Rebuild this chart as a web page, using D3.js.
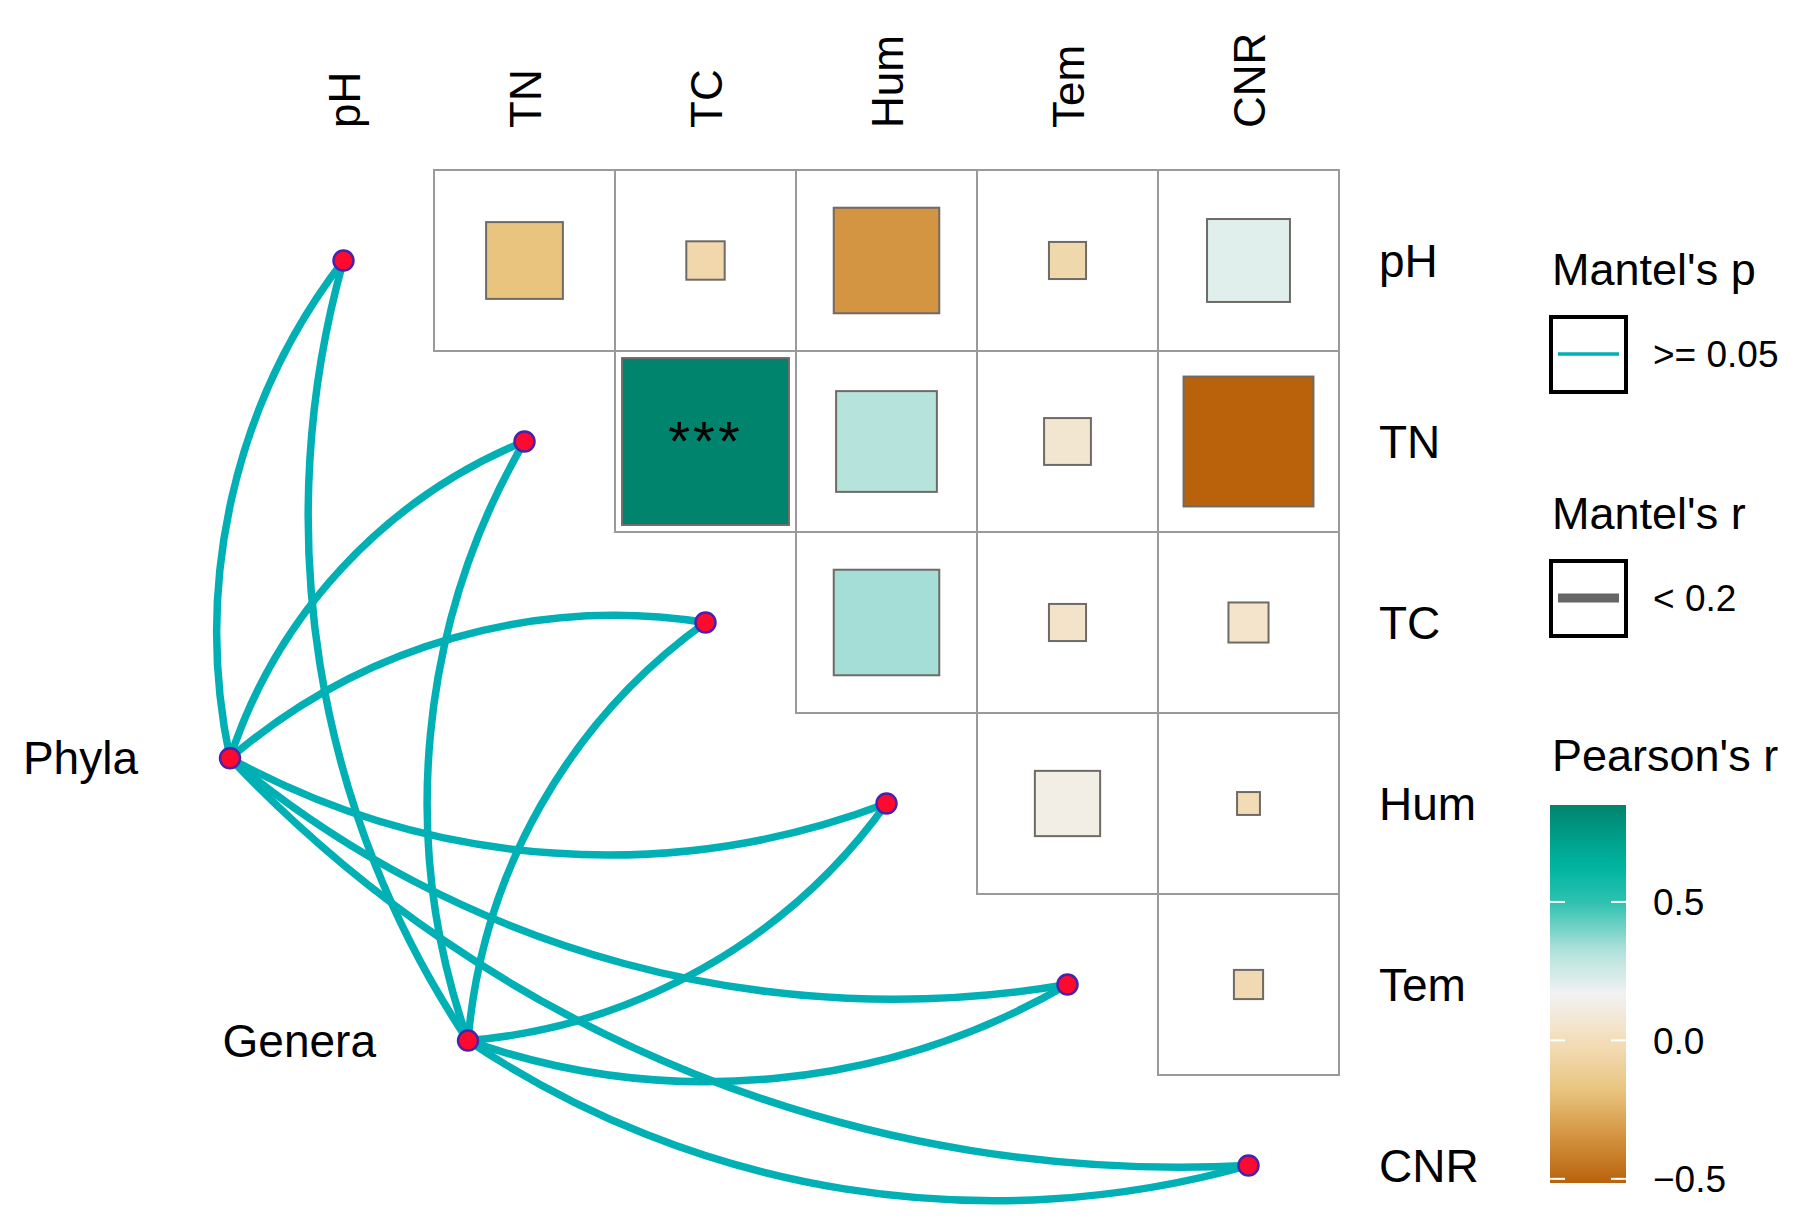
<!DOCTYPE html>
<html><head><meta charset="utf-8">
<script src="https://cdn.jsdelivr.net/npm/d3@7"></script>
<style>
body{margin:0;background:#fff}
svg{display:block}
text{font-family:"Liberation Sans", Arial, Helvetica, sans-serif;fill:#000}
</style>
</head><body>
<svg id="chart" width="1800" height="1226"></svg>
<script>
// ---------------- data ----------------
const envVars = ["pH", "TN", "TC", "Hum", "Tem", "CNR"];

// Pearson's r between environmental variables (upper triangle)
const corrRow = ["pH","pH","pH","pH","pH","TN","TN","TN","TN","TC","TC","TC","Hum","Hum","Tem"];
const corrCol = ["TN","TC","Hum","Tem","CNR","TC","Hum","Tem","CNR","Hum","Tem","CNR","Tem","CNR","CNR"];
const corrR   = [-0.18,-0.045,-0.34,-0.042,0.21, 0.85,0.31,0.067,-0.515, 0.34,0.042,0.049, 0.13,-0.016, -0.026];
const corrSig = ["","","","","", "***","","","", "","","", "","", ""];

// Mantel links
const specNames   = ["Phyla", "Genera"];
const mantelSpec  = ["Phyla","Phyla","Phyla","Phyla","Phyla","Phyla","Genera","Genera","Genera","Genera","Genera","Genera"];
const mantelEnv   = ["pH","TN","TC","Hum","Tem","CNR","pH","TN","TC","Hum","Tem","CNR"];
const mantelPClass = [">= 0.05",">= 0.05",">= 0.05",">= 0.05",">= 0.05",">= 0.05",">= 0.05",">= 0.05",">= 0.05",">= 0.05",">= 0.05",">= 0.05"];
const mantelRClass = ["< 0.2","< 0.2","< 0.2","< 0.2","< 0.2","< 0.2","< 0.2","< 0.2","< 0.2","< 0.2","< 0.2","< 0.2"];

const colorTicks = [-0.5, 0.0, 0.5];
const legendPLabels = [">= 0.05"];
const legendRLabels = ["< 0.2"];

// ---------------- layout / style ----------------
const FONT_LAB = 46, FONT_ROT = 44, FONT_LEG_T = 45, FONT_LEG = 37;
const svg = d3.select("#chart");

const x = d3.scaleBand().domain(envVars).range([253, 1339]).padding(0);
const y = d3.scaleBand().domain(envVars).range([170, 1256]).padding(0);
const bw = x.bandwidth();
// grid-unit scales (index -> pixel centre)
const gx = d3.scaleLinear().domain([0, 1]).range([x("pH") + bw / 2, x("TN") + bw / 2]);
const gy = d3.scaleLinear().domain([0, 1]).range([y("pH") + bw / 2, y("TN") + bw / 2]);
// placement of the species nodes in grid units
const specPos = {Phyla: [-0.627, 2.75], Genera: [0.688, 4.31]};

const ext = d3.extent(corrR);
const palFrac = [0, 0.121, 0.245, 0.377, 0.5, 0.612, 0.744, 0.831, 1];
const palCol  = ["#B9620B","#D3923F","#E8C47F","#F3DEBB","#F2F2F2","#B3E2DC","#2DC1AF","#00B6A2","#00846E"];
const color = d3.scaleLinear()
  .domain(palFrac.map(f => ext[0] + f * (ext[1] - ext[0])))
  .range(palCol).interpolate(d3.interpolateRgb).clamp(true);

const cells = corrR.map((r, i) => ({row: corrRow[i], col: corrCol[i], r, sig: corrSig[i]}));

// ---------------- grid cells ----------------
const gCells = svg.append("g");
gCells.selectAll("rect.cell").data(cells).join("rect")
  .attr("class", "cell")
  .attr("x", d => x(d.col)).attr("y", d => y(d.row))
  .attr("width", bw).attr("height", bw)
  .attr("fill", "#fff").attr("stroke", "#9a9a9a").attr("stroke-width", 2);

gCells.selectAll("rect.sq").data(cells).join("rect")
  .attr("class", "sq")
  .each(function(d) {
    const s = bw * Math.sqrt(Math.abs(d.r));
    d3.select(this)
      .attr("x", x(d.col) + (bw - s) / 2).attr("y", y(d.row) + (bw - s) / 2)
      .attr("width", s).attr("height", s);
  })
  .attr("fill", d => color(d.r)).attr("stroke", "#6f6a66").attr("stroke-width", 2);

gCells.selectAll("text.sig").data(cells.filter(d => d.sig)).join("text")
  .attr("class", "sig")
  .attr("x", d => x(d.col) + bw / 2).attr("y", d => y(d.row) + bw / 2 + 18)
  .attr("text-anchor", "middle").attr("font-size", 56)
  .attr("letter-spacing", 3)
  .text(d => d.sig);

// ---------------- axis labels ----------------
svg.append("g").selectAll("text").data(envVars).join("text")
  .attr("transform", d => `translate(${x(d) + bw / 2 + 16},128) rotate(-90)`)
  .attr("font-size", FONT_ROT).attr("text-anchor", "start")
  .text(d => d);

svg.append("g").selectAll("text").data(envVars).join("text")
  .attr("x", 1379).attr("y", d => y(d) + bw / 2 + 16)
  .attr("font-size", FONT_LAB)
  .text(d => d);

// ---------------- Mantel links ----------------
const links = mantelSpec.map((s, i) => ({spec: s, env: mantelEnv[i], p: mantelPClass[i], r: mantelRClass[i]}));
const envIdx = new Map(envVars.map((v, i) => [v, i]));
const half = (envVars.length - 1) / 2;
const SAG = 0.22;
function linkPath(d) {
  const sp = specPos[d.spec];
  const x1 = gx(sp[0]), y1 = gy(sp[1]);
  const k = envIdx.get(d.env);
  const x2 = gx(k), y2 = gy(k);
  const h = Math.hypot(x2 - x1, y2 - y1) / 2;
  const s = SAG * h;
  const R = (h * h + s * s) / (2 * s);
  const sweep = k < half ? 1 : 0;
  return `M${x1},${y1} A${R},${R} 0 0 ${sweep} ${x2},${y2}`;
}
const pColor = d3.scaleOrdinal().domain([">= 0.05"]).range(["#00B0B5"]);
const rWidth = d3.scaleOrdinal().domain(["< 0.2"]).range([7.5]);

svg.append("g").selectAll("path").data(links).join("path")
  .attr("d", linkPath)
  .attr("fill", "none")
  .attr("stroke", d => pColor(d.p))
  .attr("stroke-width", d => rWidth(d.r))
  .attr("stroke-linecap", "round");

// nodes
const nodeG = svg.append("g");
nodeG.selectAll("circle.env").data(envVars).join("circle")
  .attr("class", "env")
  .attr("cx", (d, i) => gx(i)).attr("cy", (d, i) => gy(i)).attr("r", 10)
  .attr("fill", "#FF0A2E").attr("stroke", "#4B22A8").attr("stroke-width", 2.5);
nodeG.selectAll("circle.spec").data(specNames).join("circle")
  .attr("class", "spec")
  .attr("cx", d => gx(specPos[d][0])).attr("cy", d => gy(specPos[d][1])).attr("r", 10)
  .attr("fill", "#FF0A2E").attr("stroke", "#4B22A8").attr("stroke-width", 2.5);
nodeG.selectAll("text").data(specNames).join("text")
  .attr("x", d => gx(specPos[d][0]) - 92).attr("y", d => gy(specPos[d][1]) + 16)
  .attr("text-anchor", "end").attr("font-size", FONT_LAB)
  .text(d => d);

// ---------------- legends ----------------
const leg = svg.append("g");
// Mantel's p
leg.append("text").attr("x", 1552).attr("y", 285).attr("font-size", FONT_LEG_T).text("Mantel's p");
legendPLabels.forEach((lab, i) => {
  const cy = 354;
  leg.append("rect").attr("x", 1551).attr("y", cy - 37).attr("width", 75).attr("height", 75)
    .attr("fill", "#fff").attr("stroke", "#000").attr("stroke-width", 4);
  leg.append("line").attr("x1", 1558).attr("x2", 1619).attr("y1", cy).attr("y2", cy)
    .attr("stroke", pColor(lab)).attr("stroke-width", 3.5);
  leg.append("text").attr("x", 1653).attr("y", cy).attr("dy", "0.36em")
    .attr("font-size", FONT_LEG).text(lab);
});
// Mantel's r
leg.append("text").attr("x", 1552).attr("y", 529).attr("font-size", FONT_LEG_T).text("Mantel's r");
legendRLabels.forEach((lab, i) => {
  const cy = 598;
  leg.append("rect").attr("x", 1551).attr("y", cy - 37).attr("width", 75).attr("height", 75)
    .attr("fill", "#fff").attr("stroke", "#000").attr("stroke-width", 4);
  leg.append("line").attr("x1", 1558).attr("x2", 1619).attr("y1", cy).attr("y2", cy)
    .attr("stroke", "#666666").attr("stroke-width", 9);
  leg.append("text").attr("x", 1653).attr("y", cy).attr("dy", "0.36em")
    .attr("font-size", FONT_LEG).text(lab);
});
// Pearson's r colourbar
leg.append("text").attr("x", 1552).attr("y", 771).attr("font-size", FONT_LEG_T).text("Pearson's r");
const cbY = d3.scaleLinear().domain(ext).range([1183, 805]);
const grad = svg.append("defs").append("linearGradient").attr("id", "cbgrad")
  .attr("x1", 0).attr("x2", 0).attr("y1", 1).attr("y2", 0);
d3.range(0, 1.0001, 0.02).forEach(t => {
  grad.append("stop").attr("offset", t).attr("stop-color", color(ext[0] + t * (ext[1] - ext[0])));
});
leg.append("rect").attr("x", 1550).attr("y", cbY(ext[1])).attr("width", 76)
  .attr("height", cbY(ext[0]) - cbY(ext[1])).attr("fill", "url(#cbgrad)");
const tickG = leg.append("g");
colorTicks.forEach(v => {
  tickG.append("line").attr("x1", 1550).attr("x2", 1565).attr("y1", cbY(v)).attr("y2", cbY(v))
    .attr("stroke", "#fff").attr("stroke-width", 2);
  tickG.append("line").attr("x1", 1611).attr("x2", 1626).attr("y1", cbY(v)).attr("y2", cbY(v))
    .attr("stroke", "#fff").attr("stroke-width", 2);
  tickG.append("text").attr("x", 1653).attr("y", cbY(v)).attr("dy", "0.36em")
    .attr("font-size", FONT_LEG).text(d3.format(".1f")(v).replace("-", "\u2212"));
});
</script>
</body></html>
